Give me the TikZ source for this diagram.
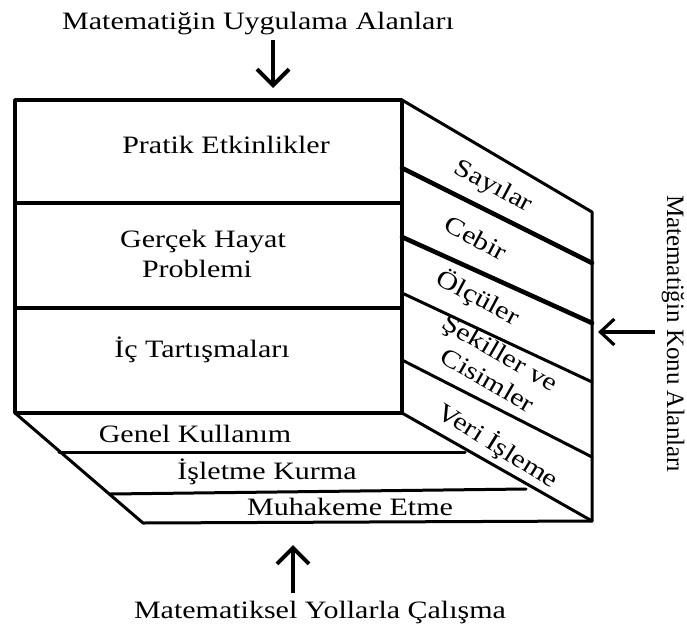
\documentclass[tikz,border=0pt]{standalone}
\usepackage{fontspec}
\setmainfont[FakeStretch=1.2]{Liberation Serif}
\newfontfamily\vfont{Liberation Serif}
\usetikzlibrary{arrows.meta}
\begin{document}
\begin{tikzpicture}[x=1pt,y=-1pt,
  lbl/.style={font=\fontsize{25}{30}\selectfont, inner sep=0pt},
  vlbl/.style={font=\vfont\fontsize{25}{30}\selectfont, inner sep=0pt},
  frontline/.style={line width=3.6pt, line join=round, line cap=round},
  sideline/.style={line width=3pt, line join=round, line cap=round},
  heavyline/.style={line width=4.6pt, line cap=round},
  arr/.style={line width=4pt, -{Straight Barb[length=16pt,width=32pt]}},
  arrs/.style={line width=3.2pt, -{Straight Barb[length=14pt,width=26pt]}}]
\useasboundingbox (0,0) rectangle (687,626);
% corners
\coordinate (A) at (15,100);
\coordinate (B) at (402,100);
\coordinate (C) at (402,413);
\coordinate (D) at (15,413);
\coordinate (E) at (592,212);
\coordinate (F) at (592,521);
\coordinate (G) at (143,523);
% front face
\draw[frontline] (A) rectangle (C);
\draw[frontline] (15,203) -- (402,203);
\draw[frontline] (15,308) -- (402,308);
% right face
\draw[sideline] (B) -- (E) -- (F) -- (C);
\draw[heavyline] (402,168) -- (592,263);
\draw[heavyline] (402,237) -- (592,323);
\draw[sideline] (402,293) -- (592,382);
\draw[sideline] (402,360) -- (592,457);
% bottom face
\draw[sideline] (D) -- (G) -- (F);
\draw[sideline] (59,452) -- (465,452);
\draw[sideline] (110,494) -- (526,489);
% front texts
\node[lbl, anchor=base] (t1) at (226,153) {Pratik Etkinlikler};
\node[lbl, anchor=base] (t2a) at (203,247) {Gerçek Hayat};
\node[lbl, anchor=base] (t2b) at (197,277) {Problemi};
\node[lbl, anchor=base] (t3) at (202,357) {İç Tartışmaları};
% bottom texts
\node[lbl, anchor=base] (b1) at (195,442) {Genel Kullanım};
\node[lbl, anchor=base] (b2) at (267,479) {İşletme Kurma};
\node[lbl, anchor=base] (b3) at (350,515) {Muhakeme Etme};
% side texts
\node[lbl, rotate=-28] (s1) at (493,187) {Sayılar};
\node[lbl, rotate=-28] (s2) at (476,238) {Cebir};
\node[lbl, rotate=-28] (s3) at (478,298) {Ölçüler};
\node[lbl, rotate=-30] (s4a) at (499,355) {Şekiller ve};
\node[lbl, rotate=-30] (s4b) at (488,380) {Cisimler};
\node[lbl, rotate=-32] (s5) at (498,446) {Veri İşleme};
% outer labels and arrows
\node[lbl, anchor=base] (top) at (258,30) {Matematiğin Uygulama Alanları};
\coordinate (ta1) at (273,40);
\coordinate (ta2) at (273,88);
\draw[arr] (ta1) -- (ta2);
\node[lbl, anchor=base] (bot) at (320,618) {Matematiksel Yollarla Çalışma};
\coordinate (ba1) at (293,593);
\coordinate (ba2) at (293,545);
\draw[arr] (ba1) -- (ba2);
\node[vlbl, rotate=-90] (right) at (673,334) {Matematiğin Konu Alanları};
\coordinate (ra1) at (655,332);
\coordinate (ra2) at (598,332);
\draw[arrs] (ra1) -- (ra2);
\end{tikzpicture}
\end{document}
